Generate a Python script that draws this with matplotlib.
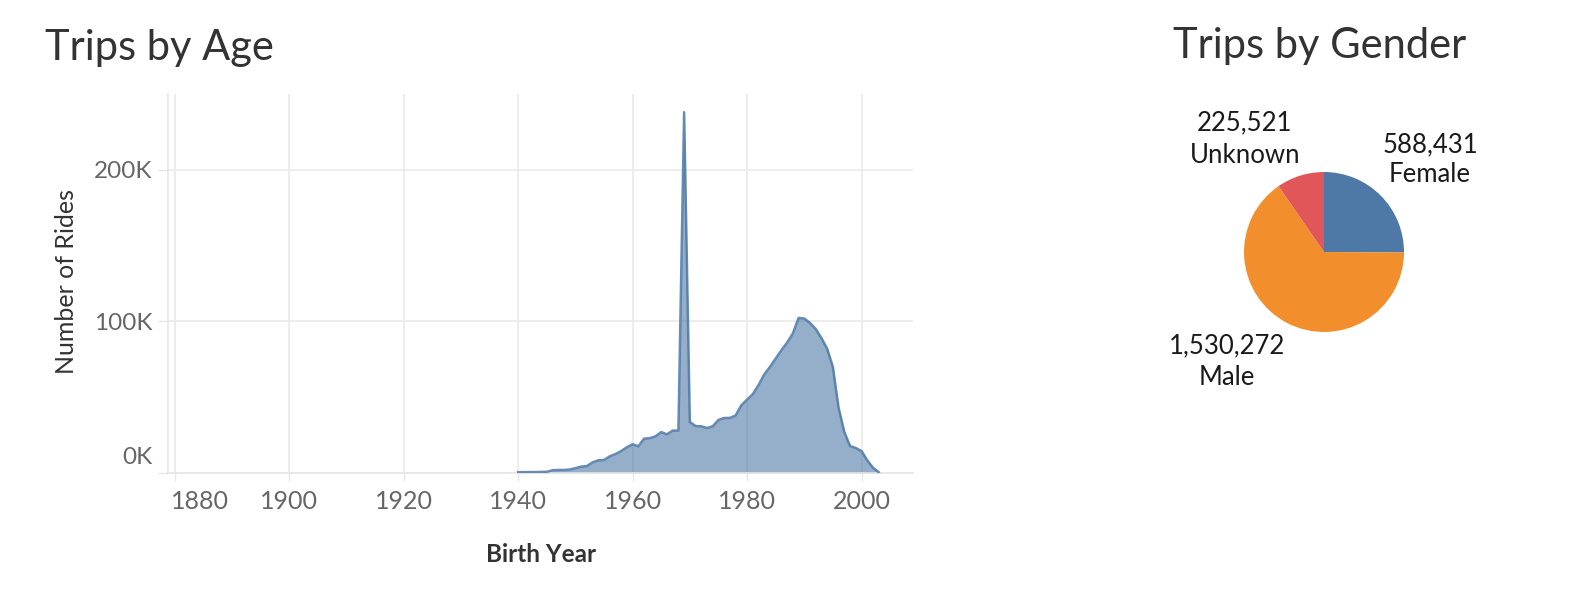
import matplotlib
matplotlib.use("Agg")
import matplotlib.pyplot as plt
from matplotlib.transforms import ScaledTranslation
from matplotlib.ticker import FuncFormatter

plt.rcParams['font.family'] = ['Lato', 'DejaVu Sans']

# ---------------- data ----------------
birth_years = list(range(1940, 2004))
rides = [0.5, 0.6, 0.6, 0.6, 0.7, 0.8, 1.8, 2.0, 2.0, 2.3,
         3.2, 4.2, 4.6, 7.0, 8.4, 8.6, 11.0, 12.5, 14.5, 17.0,
         19.0, 17.6, 22.7, 23.0, 24.2, 27.0, 25.5, 28.0, 28.0, 238.0,
         33.7, 31.0, 30.8, 29.7, 30.8, 35.0, 36.3, 36.3, 38.0, 44.7,
         48.4, 52.0, 58.0, 65.0, 70.0, 75.5, 81.0, 86.0, 92.0, 102.3,
         101.9, 99.0, 95.0, 89.0, 82.0, 70.0, 43.0, 27.0, 17.8, 16.5,
         14.5, 8.4, 3.5, 0.5]
rides = [v * 1000 for v in rides]
x_ticks = [1880, 1900, 1920, 1940, 1960, 1980, 2000]
y_ticks = [0, 100000, 200000]

genders = ['Female', 'Male', 'Unknown']
gender_trips = [588431, 1530272, 225521]
gender_colors = ['#4e79a7', '#f28e2b', '#e15759']

# ---------------- figure ----------------
W, H = 1582, 594
fig = plt.figure(figsize=(W / 100, H / 100), dpi=100)
fig.patch.set_facecolor('white')

def fx(px):
    return px / W

def fy(py):
    return 1 - py / H

# Area chart axes: pixels x 168..913, y 94..473
ax = fig.add_axes([fx(168), fy(473), fx(913) - fx(168), fy(94) - fy(473)])
ax.fill_between(birth_years, rides, 0, color='#4e79a7', alpha=0.6, linewidth=0, zorder=2)
ax.plot(birth_years, rides, color='#4e79a7', alpha=0.85, linewidth=1.8, zorder=3)

ax.set_xlim(1878.8, 2009.0)
ax.set_ylim(0, 250000)
ax.set_xticks(x_ticks)
ax.set_yticks(y_ticks)
ax.yaxis.set_major_formatter(FuncFormatter(lambda v, p: f"{int(v / 1000)}K"))
ax.grid(True, color='#ececec', linewidth=1.3, zorder=0)
ax.set_axisbelow(True)
for s in ['top', 'right']:
    ax.spines[s].set_visible(False)
for s in ['left', 'bottom']:
    ax.spines[s].set_color('#e6e6e6')
    ax.spines[s].set_linewidth(1.2)
ax.tick_params(axis='x', length=6, width=1.0, color='#e6e6e6', labelsize=18,
               labelcolor='#666666', pad=6)
ax.tick_params(axis='y', length=7, width=1.0, color='#e6e6e6', labelsize=17.5,
               labelcolor='#666666', pad=4)

fig.canvas.draw()
ylabs = ax.get_yticklabels()
ylabs[0].set_transform(ylabs[0].get_transform() + ScaledTranslation(0, 0.17, fig.dpi_scale_trans))
xlabs = ax.get_xticklabels()
xlabs[0].set_horizontalalignment('left')
xlabs[0].set_transform(xlabs[0].get_transform() + ScaledTranslation(-0.04, 0, fig.dpi_scale_trans))

# titles and axis labels
fig.text(fx(45), fy(60), 'Trips by Age', fontsize=30, color='#333333', va='baseline', ha='left')
fig.text(fx(1173), fy(58), 'Trips by Gender', fontsize=30, color='#333333', va='baseline', ha='left')
fig.text(fx(541), fy(562), 'Birth Year', fontsize=17.5, color='#333333', va='baseline', ha='center',
         fontweight='bold')
fig.text(fx(66), fy(282), 'Number of Rides', fontsize=18, color='#333333', rotation=90,
         va='center', ha='center')

# Pie chart: center (1324, 252), radius 80 px
pax = fig.add_axes([fx(1244), fy(332), fx(1404) - fx(1244), fy(172) - fy(332)])
pax.pie(gender_trips, colors=gender_colors, startangle=90, counterclock=False, radius=1,
        wedgeprops=dict(linewidth=0))
pax.set_xlim(-1, 1)
pax.set_ylim(-1, 1)
pax.set_aspect('equal')
pax.axis('off')

label_pos = {
    'Female': (1430, 152, 182),
    'Male': (1227, 353, 385),
    'Unknown': (1245, 130, 163),
}
for g, n in zip(genders, gender_trips):
    x, b1, b2 = label_pos[g]
    fig.text(fx(x), fy(b1), f"{n:,}", fontsize=18.5, color='#1a1a1a', ha='center', va='baseline')
    fig.text(fx(x), fy(b2), g, fontsize=18.5, color='#1a1a1a', ha='center', va='baseline')

fig.savefig('out.png', dpi=100, facecolor='white')
